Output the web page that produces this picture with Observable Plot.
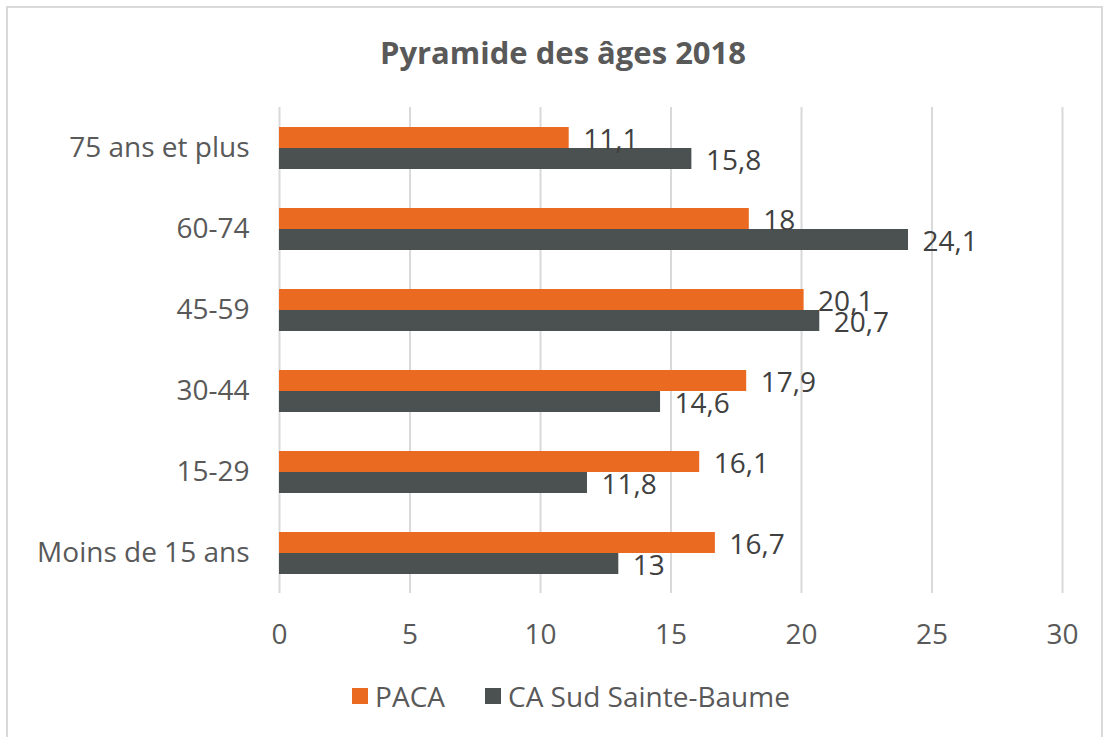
<!DOCTYPE html>
<html>
<head>
<meta charset="utf-8">
<script src="https://cdn.jsdelivr.net/npm/d3@7"></script>
<script src="https://cdn.jsdelivr.net/npm/@observablehq/plot@0.6"></script>
<style>
  html, body { margin: 0; padding: 0; background: #fff; }
  body { width: 1115px; height: 737px; overflow: hidden; position: relative; font-family: "Open Sans", sans-serif; }
  #frame { position: absolute; left: 6px; top: 6px; width: 1097px; height: 800px; border: 2px solid #d9d9d9; box-sizing: border-box; }
  #title { position: absolute; left: 0; width: 1126px; top: 29px; text-align: center; font-size: 31px; font-weight: bold; color: #595959; line-height: 46px; }
  #chart { position: absolute; left: 0; top: 0; }
  #legend { position: absolute; top: 677px; left: 0; width: 1115px; display: flex; justify-content: center; align-items: center; font-size: 28px; color: #595959; padding-left: 27px; box-sizing: border-box; }
  .item { display: flex; align-items: center; margin: 0 20px; }
  .sw { width: 16px; height: 16px; margin-right: 7px; }
</style>
</head>
<body>
<div id="frame"></div>
<div id="title">Pyramide des âges 2018</div>
<div id="chart"></div>
<div id="legend"></div>
<script>
const categories = ["75 ans et plus", "60-74", "45-59", "30-44", "15-29", "Moins de 15 ans"];
const seriesNames = ["PACA", "CA Sud Sainte-Baume"];
const pacaValues = [11.1, 18, 20.1, 17.9, 16.1, 16.7];
const caValues = [15.8, 24.1, 20.7, 14.6, 11.8, 13];
const xTicks = [0, 5, 10, 15, 20, 25, 30];
const colors = ["#EA6A22", "#4B5051"];

const data = [];
categories.forEach((c, i) => {
  data.push({category: c, series: seriesNames[0], value: pacaValues[i]});
  data.push({category: c, series: seriesNames[1], value: caValues[i]});
});
const fmt = v => String(v).replace(".", ",");

const chart = Plot.plot({
  width: 1115,
  height: 670,
  marginTop: 106,
  marginBottom: 76,
  marginLeft: 279,
  marginRight: 53,
  style: {fontFamily: "Open Sans, sans-serif", fontSize: "28px", color: "#595959", background: "transparent"},
  x: {domain: [0, 30], ticks: xTicks, tickSize: 0, tickPadding: 31, label: null, tickFormat: d => String(d)},
  y: {domain: seriesNames, axis: null, paddingInner: 0, paddingOuter: 0.89},
  fy: {domain: categories, padding: 0, label: null, tickSize: 0, tickPadding: 30, axis: "left"},
  color: {domain: seriesNames, range: colors},
  marks: [
    Plot.ruleX(xTicks, {stroke: "#d9d9d9", strokeWidth: 2}),
    Plot.barX(data, {x: "value", y: "series", fy: "category", fill: "series"}),
    Plot.text(data, {x: "value", y: "series", fy: "category", text: d => fmt(d.value), dx: 14, dy: 2, textAnchor: "start", fill: "#404040", fontSize: 28})
  ]
});
document.getElementById("chart").appendChild(chart);

const legend = document.getElementById("legend");
seriesNames.forEach((s, i) => {
  const item = document.createElement("div");
  item.className = "item";
  const sw = document.createElement("div");
  sw.className = "sw";
  sw.style.background = colors[i];
  const t = document.createElement("span");
  t.textContent = s;
  item.appendChild(sw);
  item.appendChild(t);
  legend.appendChild(item);
});
</script>
</body>
</html>
